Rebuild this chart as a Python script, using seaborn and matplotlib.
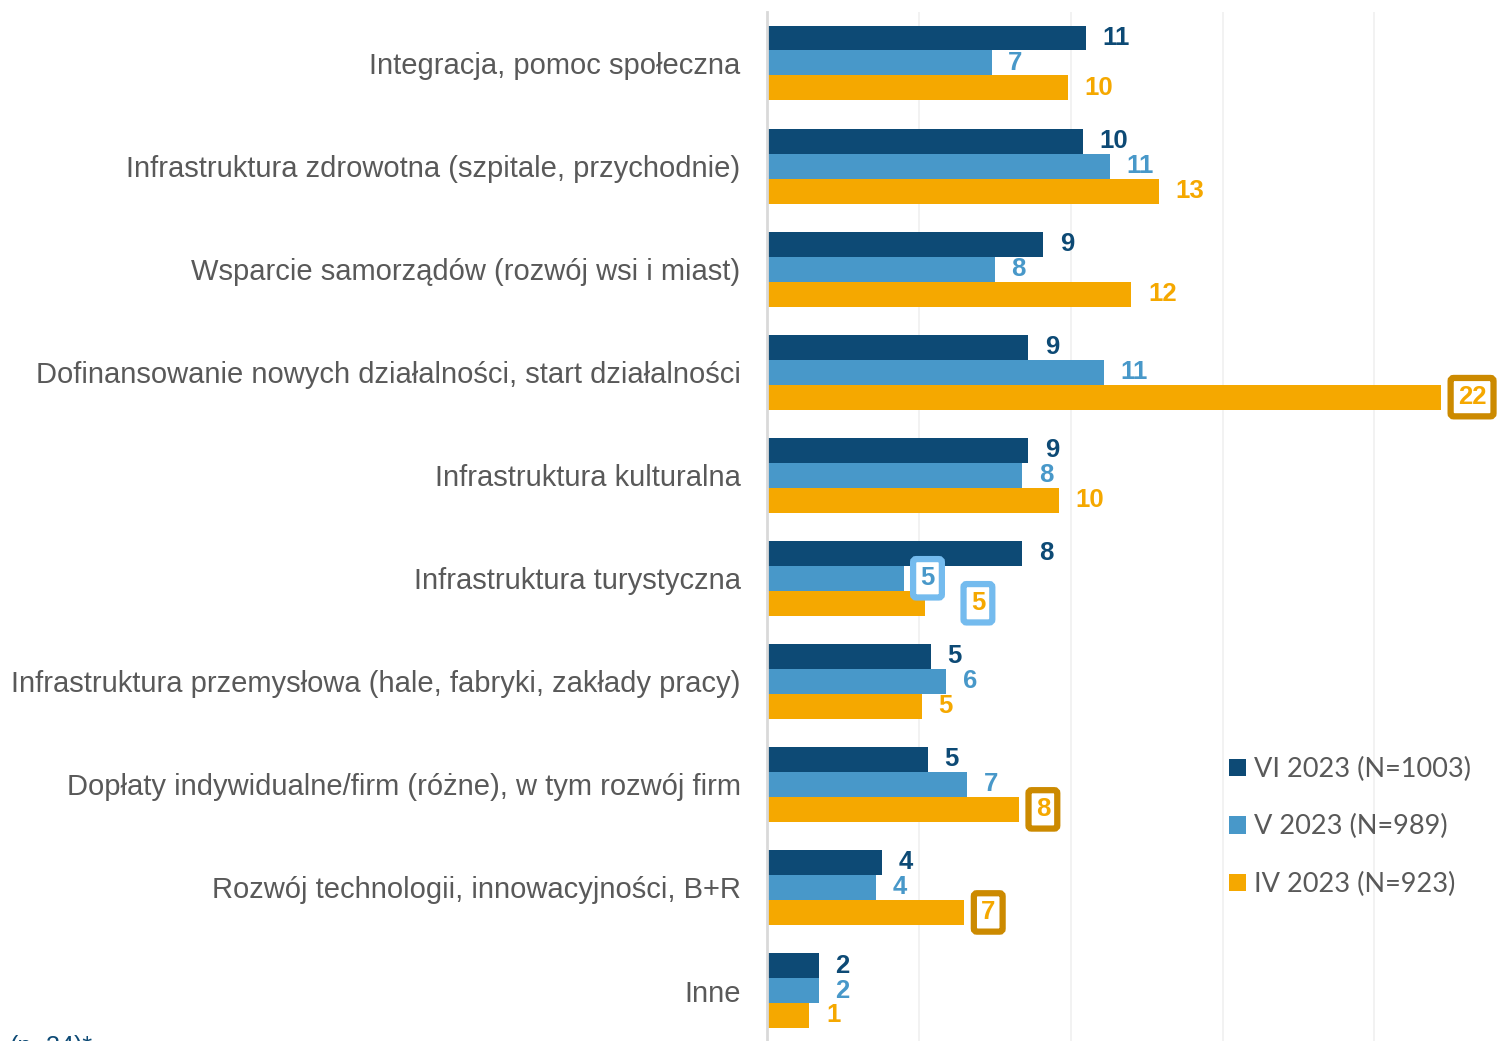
import pandas as pd
import matplotlib
matplotlib.use("Agg")
import matplotlib.pyplot as plt
import seaborn as sns

# Dane (%)
kategorie = [
    "Integracja, pomoc społeczna",
    "Infrastruktura zdrowotna (szpitale, przychodnie)",
    "Wsparcie samorządów (rozwój wsi i miast)",
    "Dofinansowanie nowych działalności, start działalności",
    "Infrastruktura kulturalna",
    "Infrastruktura turystyczna",
    "Infrastruktura przemysłowa (hale, fabryki, zakłady pracy)",
    "Dopłaty indywidualne/firm (różne), w tym rozwój firm",
    "Rozwój technologii, innowacyjności, B+R",
    "Inne",
]
serie = ["VI 2023 (N=1003)", "V 2023 (N=989)", "IV 2023 (N=923)"]
vi_2023 = [10.5, 10.4, 9.1, 8.6, 8.6, 8.4, 5.4, 5.3, 3.8, 1.7]
v_2023 = [7.4, 11.3, 7.5, 11.1, 8.4, 4.5, 5.9, 6.6, 3.6, 1.7]
iv_2023 = [9.9, 12.9, 12.0, 22.2, 9.6, 5.2, 5.1, 8.3, 6.5, 1.4]
etykiety_vi = ["11", "10", "9", "9", "9", "8", "5", "5", "4", "2"]
etykiety_v = ["7", "11", "8", "11", "8", "5", "6", "7", "4", "2"]
etykiety_iv = ["10", "13", "12", "22", "10", "5", "5", "8", "7", "1"]

kolory = ["#0D4A75", "#4898C9", "#F5A800"]
kolor_tekstu = "#595959"

df = pd.DataFrame({
    "kategoria": kategorie * 3,
    "seria": [serie[0]] * 10 + [serie[1]] * 10 + [serie[2]] * 10,
    "wartosc": vi_2023 + v_2023 + iv_2023,
})

sns.set_style("white")
plt.rcParams["font.family"] = ["Liberation Sans", "DejaVu Sans"]

fig = plt.figure(figsize=(15.11, 10.41), dpi=100)
ax = fig.add_axes([0.5076, 0.0, 0.4924, 0.988])

sns.barplot(data=df, y="kategoria", x="wartosc", hue="seria", order=kategorie,
            hue_order=serie, palette=kolory, orient="h", width=0.7275,
            saturation=1, ax=ax, legend=True, edgecolor="none")

ax.set_xlim(0, 24.5)
ax.set_ylim(9.49, -0.49)
ax.set_xticks([5, 10, 15, 20])
ax.set_xticklabels([])
ax.grid(axis="x", color="#F0F0F0", linewidth=1.2)
ax.set_axisbelow(True)
ax.tick_params(axis="both", length=0)
ax.tick_params(axis="y", pad=19, labelsize=21, labelcolor=kolor_tekstu)
ax.set_xlabel("")
ax.set_ylabel("")
for s in ["top", "right", "bottom"]:
    ax.spines[s].set_visible(False)
ax.spines["left"].set_color("#D9D9D9")
ax.spines["left"].set_linewidth(2)

# Etykiety wartości
ramki = {(2, 3): "#CC8A00", (2, 7): "#CC8A00", (2, 8): "#CC8A00",
         (1, 5): "#74BBEE", (2, 5): "#74BBEE"}
etykiety = [etykiety_vi, etykiety_v, etykiety_iv]
for i, kontener in enumerate(ax.containers):
    for j, bar in enumerate(kontener):
        x = bar.get_width()
        y = bar.get_y() + bar.get_height() / 2
        przesuniecie = 12
        if (i, j) == (2, 5):
            przesuniecie = 33
        bbox = None
        if (i, j) in ramki:
            bbox = dict(boxstyle="round,pad=0.28,rounding_size=0.12",
                        facecolor="white", edgecolor=ramki[(i, j)], linewidth=4.5)
        ax.annotate(etykiety[i][j], (x, y), xytext=(przesuniecie, 0),
                    textcoords="offset points", ha="left", va="center",
                    fontsize=18.5, fontweight="bold", color=kolory[i], bbox=bbox)

leg = ax.legend(loc="upper left", bbox_to_anchor=(0.588, 0.3), frameon=False,
                handlelength=0.62, handleheight=0.62, handletextpad=0.3,
                labelspacing=1.2, prop={"family": "Lato", "size": 19.5})
for t in leg.get_texts():
    t.set_color(kolor_tekstu)

fig.text(0.006, -0.006, "(n=34)*", fontsize=18, color=kolory[0], va="center")

fig.savefig("out.png", dpi=100)
